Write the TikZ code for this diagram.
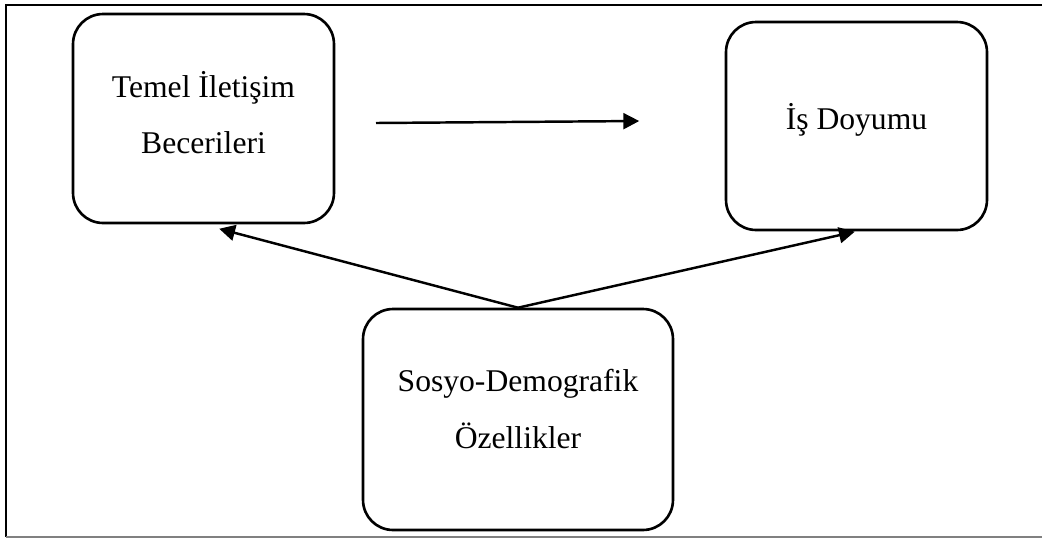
\documentclass[tikz,border=0pt]{standalone}
\usepackage{fontspec}
\setmainfont{Liberation Serif}
\usetikzlibrary{arrows.meta,positioning}

\begin{document}
\begin{tikzpicture}[x=0.02cm,y=-0.02cm,
	box/.style={draw,rounded corners=0.6cm,line width=1.5pt,align=center,inner sep=0pt,
		font=\fontsize{18}{32}\selectfont},
	>={Triangle[length=9pt,width=9pt]},link/.style={->,line width=1.4pt,shorten >=1pt}]
	\useasboundingbox (0,0) rectangle (1042,538);
	% cerceve
	\draw[line width=1.3pt] (1042,5) -- (6,5) -- (6,537);
	\draw[gray,line width=1.2pt] (6,537) -- (1042,537);
	
	\node[box,minimum width=5.22cm,minimum height=4.18cm,text depth=7pt] (temel) at (203.5,118.5) {Temel İletişim\\Becerileri};
	\node[box,minimum width=5.22cm,minimum height=4.16cm,text depth=11pt] (doyum) at (856.5,126) {İş Doyumu};
	\node[box,minimum width=6.2cm,minimum height=4.42cm,text depth=12pt] (sosyo) at (518,419.5) {Sosyo-Demografik\\Özellikler};
	
	\coordinate (ok1) at (376,123);
	\coordinate (ok2) at (641,121);
	\draw[link] (ok1) -- (ok2);
	\draw[link] (sosyo.north) -- ([xshift=0.28cm,yshift=-0.08cm]temel.south);
	\draw[link] (sosyo.north) -- (doyum.south);
\end{tikzpicture}
\end{document}
